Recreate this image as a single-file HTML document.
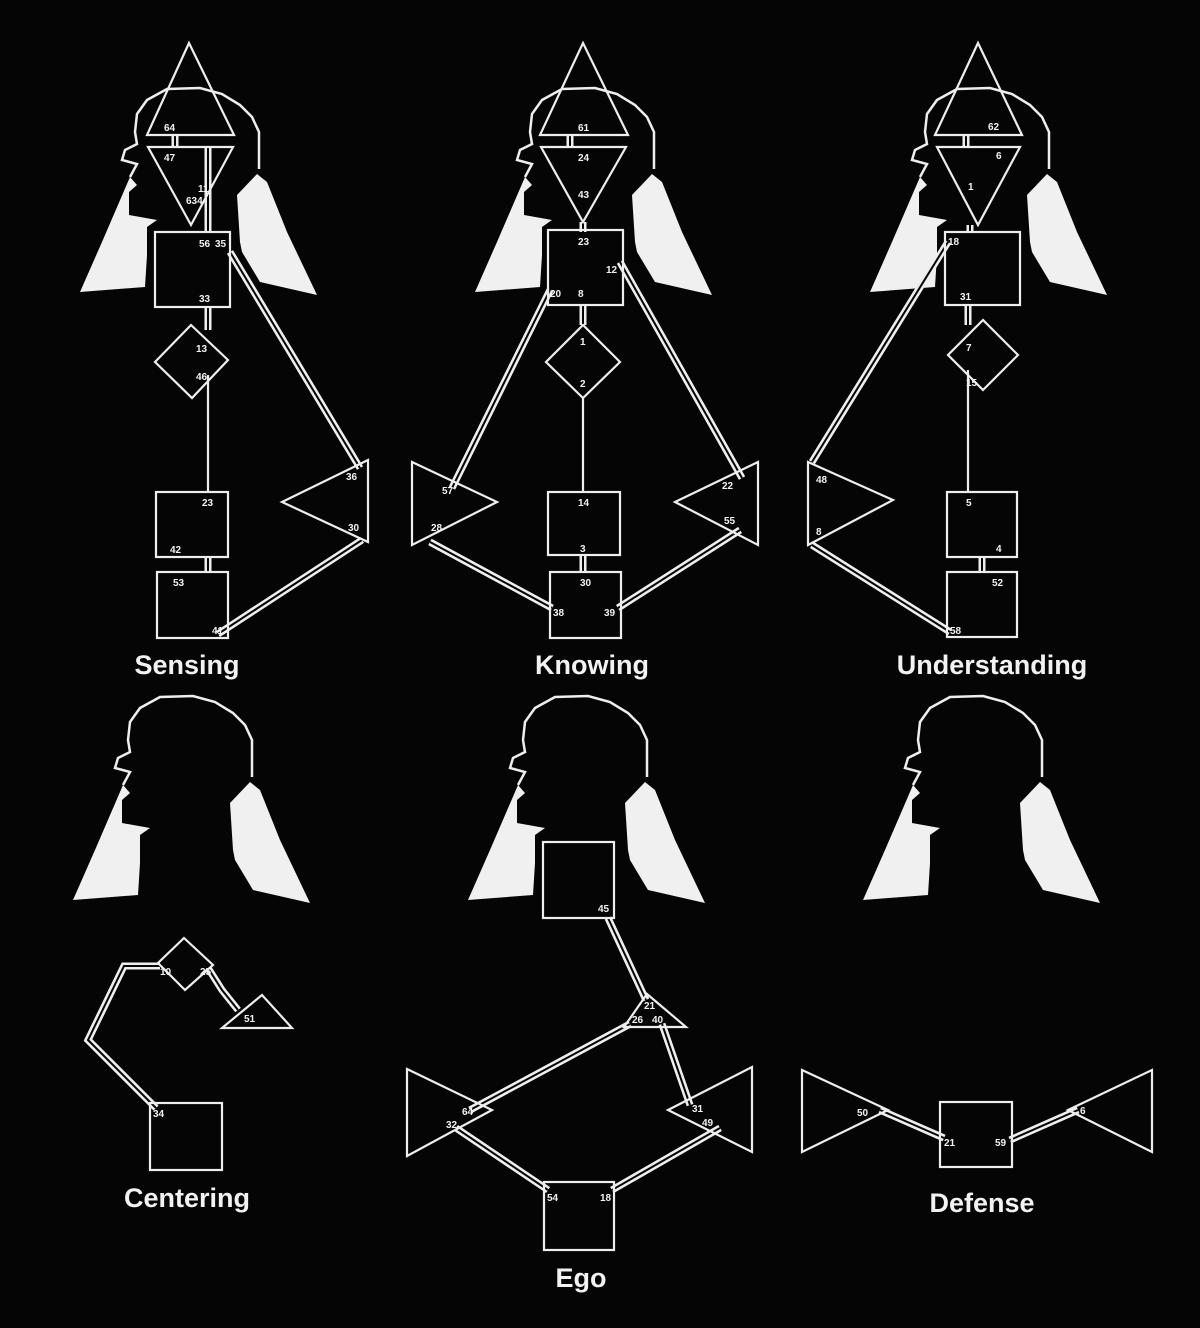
<!DOCTYPE html>
<html><head><meta charset="utf-8"><style>
html,body{margin:0;padding:0;background:#050505;}
svg{display:block}
text{font-family:"Liberation Sans",sans-serif;fill:#f2f2f2}
.l{font-size:10px;font-family:"Liberation Mono",monospace;font-weight:bold}
.t{font-size:27px;font-weight:bold;text-anchor:middle}
</style></head><body>
<svg width="1200" height="1328" viewBox="0 0 1200 1328" xmlns="http://www.w3.org/2000/svg">
<rect width="1200" height="1328" fill="#050505"/>
<defs>
<g id="head">
<polyline points="123,785 130,772 115,768 118,758 130,752 128,740 130,722 140,708 160,697 193,696 215,702 233,713 245,725 252,740 252,760 252,777" fill="none" stroke="#eee" stroke-width="2.5"/>
<polygon points="123,785 130,793 122,800 122,823 150,828 140,835 140,863 138,895 73,900 95,850" fill="#f0f0f0"/>
<polygon points="250,782 260,790 280,840 310,903 253,890 235,860 233,850 230,803" fill="#f0f0f0"/>
</g>
</defs>
<use href="#head" x="7" y="-608"/>
<use href="#head" x="402" y="-608"/>
<use href="#head" x="797" y="-608"/>
<use href="#head" x="0" y="0"/>
<use href="#head" x="395" y="0"/>
<use href="#head" x="790" y="0"/>

<!-- double lines -->
<g id="dl" fill="none" stroke="#eee" stroke-width="7" stroke-linejoin="miter">
<path d="M208,147 V232 M208,307 V330 M230,252 L360,468 M362,540 L218,634"/>
<path d="M583,222 V232 M583,305 V325 M550,290 L452,488 M620,262 L742,478 M430,542 L552,608 M740,530 L618,608 M583,555 V572"/>
<path d="M970,225 V232 M968,305 V325 M948,242 L812,462 M812,545 L950,632 M982,557 V572"/>
<path d="M208,557 V572"/>
<path d="M160,966 H124 L88,1040 L156,1108 M208,968 L222,990 L238,1010"/>
<path d="M608,918 L646,1000 M630,1024 L470,1110 M662,1024 L690,1105 M456,1128 L548,1190 M720,1128 L612,1190"/>
<path d="M880,1110 L944,1138 M1010,1140 L1078,1110"/>
<path d="M175,135 V147 M570,135 V147 M966,135 V147"/>
</g>
<use href="#dl" style="stroke:#050505" stroke-width="2"/>
<g fill="none" stroke="#050505" stroke-width="2">
<path d="M208,147 V232 M208,307 V330 M230,252 L360,468 M362,540 L218,634"/>
<path d="M583,222 V232 M583,305 V325 M550,290 L452,488 M620,262 L742,478 M430,542 L552,608 M740,530 L618,608 M583,555 V572"/>
<path d="M970,225 V232 M968,305 V325 M948,242 L812,462 M812,545 L950,632 M982,557 V572"/>
<path d="M208,557 V572"/>
<path d="M160,966 H124 L88,1040 L156,1108 M208,968 L222,990 L238,1010"/>
<path d="M608,918 L646,1000 M630,1024 L470,1110 M662,1024 L690,1105 M456,1128 L548,1190 M720,1128 L612,1190"/>
<path d="M880,1110 L944,1138 M1010,1140 L1078,1110"/>
<path d="M175,135 V147 M570,135 V147 M966,135 V147"/>
</g>

<g fill="none" stroke="#eee" stroke-width="2.2">
<!-- Sensing -->
<polygon points="189,43 234,135 147,135"/>
<polygon points="148,147 233,147 191,225"/>
<rect x="155" y="232" width="75" height="75"/>
<polygon points="191,325 228,360 192,398 155,362"/>
<line x1="208" y1="375" x2="208" y2="492"/>
<rect x="156" y="492" width="72" height="65"/>
<rect x="157" y="572" width="71" height="66"/>
<polygon points="282,502 368,460 368,542"/>
<!-- Knowing -->
<polygon points="583,43 628,135 540,135"/>
<polygon points="541,147 626,147 583,222"/>
<rect x="548" y="230" width="75" height="75"/>
<polygon points="583,325 620,362 583,398 546,362"/>
<line x1="583" y1="398" x2="583" y2="492"/>
<rect x="548" y="492" width="72" height="63"/>
<rect x="550" y="572" width="71" height="66"/>
<polygon points="412,462 497,502 412,545"/>
<polygon points="675,502 758,462 758,545"/>
<!-- Understanding -->
<polygon points="978,43 1022,135 935,135"/>
<polygon points="937,147 1020,147 978,225"/>
<rect x="945" y="232" width="75" height="73"/>
<polygon points="983,320 1018,355 983,390 948,355"/>
<line x1="968" y1="370" x2="968" y2="492"/>
<rect x="947" y="492" width="70" height="65"/>
<rect x="947" y="572" width="70" height="65"/>
<polygon points="808,462 893,500 808,545"/>
<!-- Centering -->
<polygon points="184,938 213,965 185,990 158,963"/>
<polygon points="262,995 292,1028 222,1028"/>
<rect x="150" y="1103" width="72" height="67"/>
<!-- Ego -->
<rect x="543" y="842" width="71" height="76"/>
<polygon points="647,994 686,1027 624,1027"/>
<polygon points="407,1069 492,1110 407,1156"/>
<polygon points="668,1110 752,1067 752,1152"/>
<rect x="544" y="1182" width="70" height="68"/>
<!-- Defense -->
<polygon points="802,1070 888,1110 802,1152"/>
<rect x="940" y="1102" width="72" height="65"/>
<polygon points="1068,1110 1152,1070 1152,1152"/>
</g>

<g class="l">
<text x="164" y="131">64</text><text x="164" y="161">47</text><text x="198" y="192">11</text><text x="186" y="204">634</text>
<text x="199" y="247">56</text><text x="215" y="247">35</text><text x="199" y="302">33</text>
<text x="196" y="352">13</text><text x="196" y="380">46</text><text x="202" y="506">23</text>
<text x="170" y="553">42</text><text x="173" y="586">53</text><text x="212" y="634">41</text>
<text x="346" y="480">36</text><text x="348" y="531">30</text>
<text x="578" y="131">61</text><text x="578" y="161">24</text><text x="578" y="198">43</text>
<text x="578" y="245">23</text><text x="606" y="273">12</text><text x="550" y="297">20</text><text x="578" y="297">8</text>
<text x="580" y="345">1</text><text x="580" y="387">2</text><text x="578" y="506">14</text>
<text x="580" y="552">3</text><text x="580" y="586">30</text><text x="553" y="616">38</text><text x="604" y="616">39</text>
<text x="442" y="494">57</text><text x="431" y="531">28</text><text x="722" y="489">22</text><text x="724" y="524">55</text>
<text x="988" y="130">62</text><text x="996" y="159">6</text><text x="968" y="190">1</text>
<text x="948" y="245">18</text><text x="960" y="300">31</text><text x="966" y="351">7</text><text x="966" y="386">15</text>
<text x="966" y="506">5</text><text x="996" y="552">4</text><text x="992" y="586">52</text><text x="950" y="634">58</text>
<text x="816" y="483">48</text><text x="816" y="535">8</text>
<text x="160" y="975">10</text><text x="200" y="975">25</text><text x="244" y="1022">51</text><text x="153" y="1117">34</text>
<text x="598" y="912">45</text><text x="644" y="1009">21</text><text x="632" y="1023">26</text><text x="652" y="1023">40</text>
<text x="462" y="1115">64</text><text x="446" y="1128">32</text><text x="692" y="1112">31</text><text x="702" y="1126">49</text>
<text x="547" y="1201">54</text><text x="600" y="1201">18</text>
<text x="857" y="1116">50</text><text x="944" y="1146">21</text><text x="995" y="1146">59</text><text x="1080" y="1114">6</text>
</g>

<text class="t" x="187" y="674">Sensing</text>
<text class="t" x="592" y="674">Knowing</text>
<text class="t" x="992" y="674">Understanding</text>
<text class="t" x="187" y="1207">Centering</text>
<text class="t" x="581" y="1287">Ego</text>
<text class="t" x="982" y="1212">Defense</text>
</svg>
</body></html>
